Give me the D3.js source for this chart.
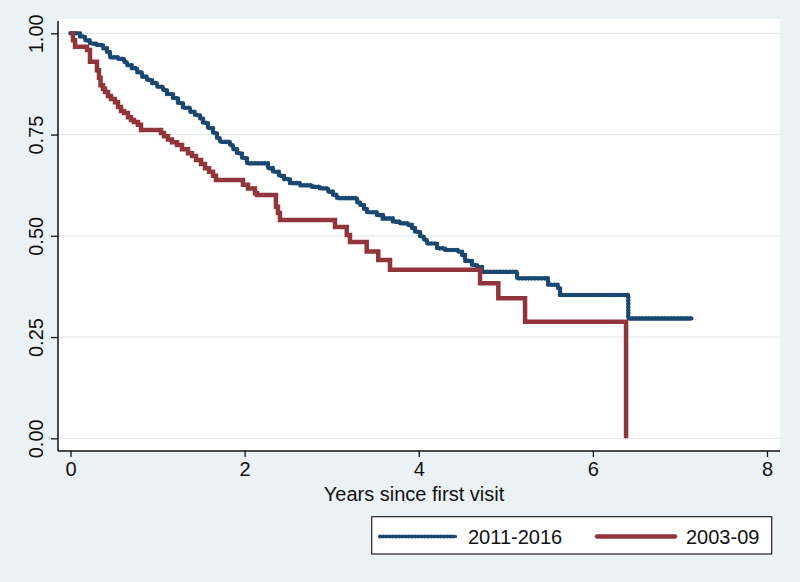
<!DOCTYPE html>
<html>
<head>
<meta charset="utf-8">
<script src="https://cdn.jsdelivr.net/npm/d3@7"></script>
<style>
  html, body { margin: 0; padding: 0; background: #eaf2f3; }
  svg { display: block; }
  text { font-family: "Liberation Sans", Arial, sans-serif; fill: #111; }
</style>
</head>
<body>
<svg id="chart" width="800" height="582"></svg>
<script>
// ---- Data ----
const seriesNames = ["2011-2016", "2003-09"];

const blueTime = [0, 0.109, 0.167, 0.224, 0.301, 0.373, 0.419, 0.454, 0.546, 0.615, 0.649, 0.706, 0.764, 0.821, 0.879, 0.936, 0.994,
  1.062, 1.108, 1.177, 1.235, 1.292, 1.373, 1.430, 1.487, 1.522, 1.579, 1.637, 1.683, 1.717, 1.832, 1.867, 1.912, 1.970, 2.027,
  2.269, 2.326, 2.395, 2.452, 2.521, 2.636, 2.774, 2.866, 2.958, 3.015, 3.061, 3.291, 3.325, 3.371, 3.406, 3.521, 3.589, 3.704,
  3.785, 3.877, 3.923, 3.957, 4.015, 4.060, 4.095, 4.210, 4.302, 4.451, 4.497, 4.531, 4.612, 4.669, 4.727, 5.129, 5.485, 5.600,
  5.623, 6.407, 7.154];
const blueSurv = [1.000, 0.992, 0.983, 0.975, 0.971, 0.963, 0.954, 0.941, 0.937, 0.929, 0.921, 0.914, 0.904, 0.893, 0.885, 0.877, 0.868,
  0.860, 0.850, 0.840, 0.828, 0.816, 0.806, 0.798, 0.790, 0.779, 0.766, 0.754, 0.741, 0.732, 0.724, 0.714, 0.704, 0.692, 0.679,
  0.667, 0.658, 0.648, 0.640, 0.630, 0.625, 0.621, 0.617, 0.609, 0.601, 0.593, 0.583, 0.576, 0.566, 0.558, 0.551, 0.543, 0.535,
  0.531, 0.527, 0.519, 0.510, 0.498, 0.490, 0.481, 0.469, 0.465, 0.461, 0.453, 0.438, 0.428, 0.423, 0.411, 0.395, 0.379, 0.370,
  0.354, 0.296, 0.296];

const redTime = [0, 0.029, 0.052, 0.190, 0.224, 0.304, 0.327, 0.345, 0.373, 0.396, 0.431, 0.465, 0.511, 0.546, 0.580, 0.615, 0.660,
  0.695, 0.729, 0.775, 0.810, 1.040, 1.074, 1.120, 1.166, 1.223, 1.281, 1.350, 1.396, 1.442, 1.499, 1.545, 1.591, 1.637, 1.671,
  1.981, 2.039, 2.119, 2.142, 2.360, 2.383, 2.406, 3.038, 3.173, 3.210, 3.402, 3.535, 3.670, 4.704, 4.914, 5.221, 6.381];
const redSurv = [1.000, 0.983, 0.967, 0.959, 0.930, 0.909, 0.890, 0.872, 0.863, 0.855, 0.845, 0.838, 0.830, 0.818, 0.808, 0.803, 0.793,
  0.786, 0.781, 0.774, 0.761, 0.754, 0.746, 0.738, 0.731, 0.724, 0.714, 0.704, 0.697, 0.687, 0.677, 0.667, 0.658, 0.648, 0.638,
  0.626, 0.617, 0.605, 0.601, 0.572, 0.556, 0.539, 0.522, 0.502, 0.485, 0.461, 0.440, 0.416, 0.383, 0.346, 0.288, 0.000];

const xTicks = [0, 2, 4, 6, 8];
const yTicks = [0, 0.25, 0.5, 0.75, 1];
const xTitle = "Years since first visit";

// ---- Layout ----
const svg = d3.select("#chart");
const plotL = 58, plotR = 780, plotT = 19, plotB = 451;
const x = d3.scaleLinear().domain([0, 8]).range([70.5, 767]);
const y = d3.scaleLinear().domain([0, 1]).range([438.3, 33.3]);
const blue = "#1a476f", red = "#90353b";
const fs = "20px";

// background
svg.append("rect").attr("width", 800).attr("height", 582).attr("fill", "#eaf2f3");
svg.append("rect").attr("x", plotL).attr("y", plotT).attr("width", plotR - plotL).attr("height", plotB - plotT).attr("fill", "#ffffff");

// gridlines
svg.append("g").selectAll("line").data(yTicks).join("line")
  .attr("x1", plotL).attr("x2", plotR)
  .attr("y1", d => y(d)).attr("y2", d => y(d))
  .attr("stroke", "#e6ecee").attr("stroke-width", 1.3);

// axes
const xAxis = svg.append("g").attr("transform", `translate(0,${plotB})`)
  .call(d3.axisBottom(x).tickValues(xTicks).tickFormat(d3.format("d")).tickSize(6).tickPadding(5));
xAxis.select(".domain").remove();
xAxis.append("line").attr("x1", plotL).attr("x2", plotR).attr("stroke", "#111").attr("stroke-width", 1.5);
xAxis.selectAll(".tick line").attr("stroke", "#111").attr("stroke-width", 1.3);
xAxis.selectAll(".tick text").attr("font-size", fs).attr("fill", "#111")
  .attr("font-family", "Liberation Sans, Arial, sans-serif");

const yAxis = svg.append("g").attr("transform", `translate(${plotL},0)`)
  .call(d3.axisLeft(y).tickValues(yTicks).tickFormat(d3.format(".2f")).tickSize(7).tickPadding(0));
yAxis.select(".domain").remove();
yAxis.append("line").attr("y1", plotT + 2).attr("y2", plotB).attr("stroke", "#111").attr("stroke-width", 1.5);
yAxis.selectAll(".tick line").attr("stroke", "#111").attr("stroke-width", 1.3);
yAxis.selectAll(".tick text")
  .attr("font-size", fs).attr("fill", "#111")
  .attr("font-family", "Liberation Sans, Arial, sans-serif")
  .attr("text-anchor", "middle").attr("dy", null).attr("x", null)
  .attr("transform", "translate(-15.5,0) rotate(-90)");

// axis title
svg.append("text").attr("x", 414).attr("y", 501).attr("text-anchor", "middle")
  .attr("font-size", fs).text(xTitle);

// curves
const line = d3.line().x(d => x(d[0])).y(d => y(d[1])).curve(d3.curveStepAfter);
const blueData = d3.zip(blueTime, blueSurv);
const redData = d3.zip(redTime, redSurv);

const gCurves = svg.append("g");
gCurves.append("path").datum(blueData).attr("d", line)
  .attr("fill", "none").attr("stroke", blue).attr("stroke-width", 3);
gCurves.append("path").datum(blueData).attr("d", line)
  .attr("fill", "none").attr("stroke", blue).attr("stroke-width", 4.6)
  .attr("stroke-linecap", "round").attr("stroke-dasharray", "0.01 3.2");
gCurves.append("path").datum(redData).attr("d", line)
  .attr("fill", "none").attr("stroke", red).attr("stroke-width", 4.5);

// legend
const lg = svg.append("g");
lg.append("rect").attr("x", 371.7).attr("y", 516.7).attr("width", 400).attr("height", 37.3)
  .attr("fill", "#ffffff").attr("stroke", "#222").attr("stroke-width", 1.2);
lg.append("line").attr("x1", 380).attr("x2", 457).attr("y1", 536.5).attr("y2", 536.5)
  .attr("stroke", blue).attr("stroke-width", 2.6);
lg.append("line").attr("x1", 380).attr("x2", 457).attr("y1", 536.5).attr("y2", 536.5)
  .attr("stroke", blue).attr("stroke-width", 4).attr("stroke-linecap", "round").attr("stroke-dasharray", "0.01 3.2");
lg.append("text").attr("x", 468).attr("y", 543.5).attr("font-size", fs).text(seriesNames[0]);
lg.append("line").attr("x1", 597).attr("x2", 675).attr("y1", 536.5).attr("y2", 536.5)
  .attr("stroke", red).attr("stroke-width", 4.5).attr("stroke-linecap", "round");
lg.append("text").attr("x", 686).attr("y", 543.5).attr("font-size", fs).text(seriesNames[1]);
</script>
</body>
</html>
